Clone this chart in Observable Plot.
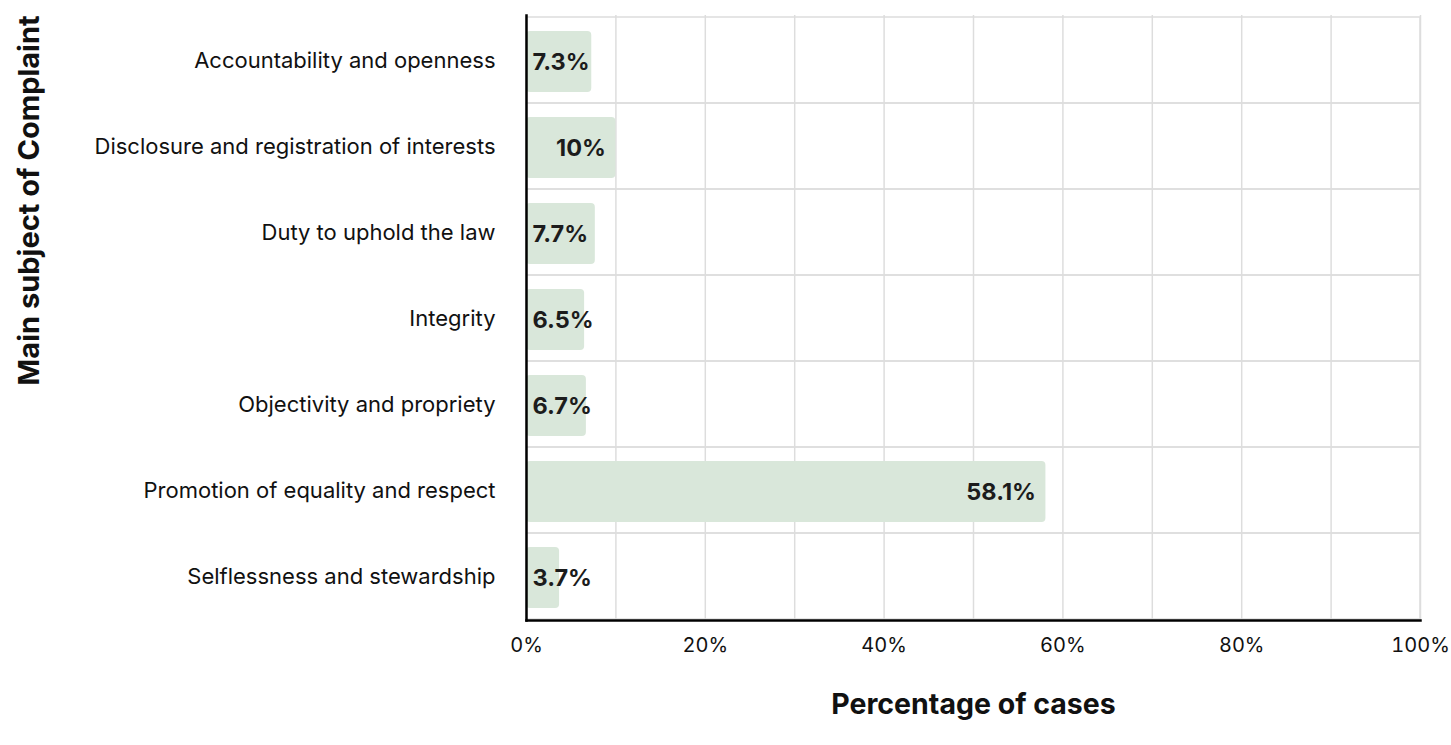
<!DOCTYPE html>
<html>
<head>
<meta charset="utf-8">
<script src="https://cdn.jsdelivr.net/npm/d3@7"></script>
<script src="https://cdn.jsdelivr.net/npm/@observablehq/plot@0.6"></script>
<style>
  html, body { margin: 0; padding: 0; background: #fff; }
  #chart { position: relative; width: 1451px; height: 745px; }
  svg { font-family: Inter, "Noto Sans", sans-serif; }
</style>
</head>
<body>
<div id="chart"></div>
<script>
const categories = [
  "Accountability and openness",
  "Disclosure and registration of interests",
  "Duty to uphold the law",
  "Integrity",
  "Objectivity and propriety",
  "Promotion of equality and respect",
  "Selflessness and stewardship"
];
const values = [7.3, 10, 7.7, 6.5, 6.7, 58.1, 3.7];
const labels = ["7.3%", "10%", "7.7%", "6.5%", "6.7%", "58.1%", "3.7%"];
const xTicks = [0, 20, 40, 60, 80, 100];
const xGrid = [10, 20, 30, 40, 50, 60, 70, 80, 90, 100];
const xTitle = "Percentage of cases";
const yTitle = "Main subject of Complaint";

const data = categories.map((c, i) => ({category: c, value: values[i], label: labels[i]}));
const small = data.filter(d => d.value < 8);
const large = data.filter(d => d.value >= 8);

const chart = Plot.plot({
  width: 1451,
  height: 745,
  marginLeft: 526,
  marginRight: 31,
  marginTop: 15,
  marginBottom: 125,
  style: {fontFamily: "Inter, 'Noto Sans', sans-serif", fontSize: "20px", color: "#111", background: "#fff"},
  x: {domain: [0, 100], label: null},
  y: {domain: categories, padding: 0, label: null},
  marks: [
    Plot.ruleX(xGrid, {stroke: "#dddddd", strokeWidth: 1.5}),
    Plot.barX(categories, {y: d => d, x1: 0, x2: 100, fill: "none", stroke: "#dddddd", strokeWidth: 1.5}),
    Plot.barX(data, {y: "category", x: "value", fill: "#d9e7da", insetTop: 14, insetBottom: 11, rx: 4}),
    Plot.text(large, {y: "category", x: "value", text: "label", textAnchor: "end", dx: -10, dy: 1.5, fontWeight: "bold", fontSize: 23.5, fill: "#1c1c1c"}),
    Plot.text(small, {y: "category", x: 0, text: "label", textAnchor: "start", dx: 6, dy: 1.5, fontWeight: "bold", fontSize: 23.5, fill: "#1c1c1c"}),
    Plot.axisX({ticks: xTicks, tickFormat: d => d + "%", tickSize: 0, tickPadding: 17, fontSize: 20, fill: "#111", label: null}),
    Plot.axisY({tickSize: 0, tickPadding: 31, fontSize: 22, fill: "#111", label: null}),
    Plot.frame({anchor: "left", stroke: "#000", strokeWidth: 2.5}),
    Plot.frame({anchor: "bottom", stroke: "#000", strokeWidth: 2.5}),
    Plot.text([xTitle], {frameAnchor: "bottom", textAnchor: "middle", dy: 93, text: d => d, fontWeight: "bold", fontSize: 28.5, fill: "#111"}),
    Plot.text([yTitle], {frameAnchor: "top-left", textAnchor: "middle", dx: -508, dy: 185, rotate: -90, text: d => d, fontWeight: "bold", fontSize: 29, fill: "#111"})
  ]
});
document.getElementById("chart").appendChild(chart);
</script>
</body>
</html>
